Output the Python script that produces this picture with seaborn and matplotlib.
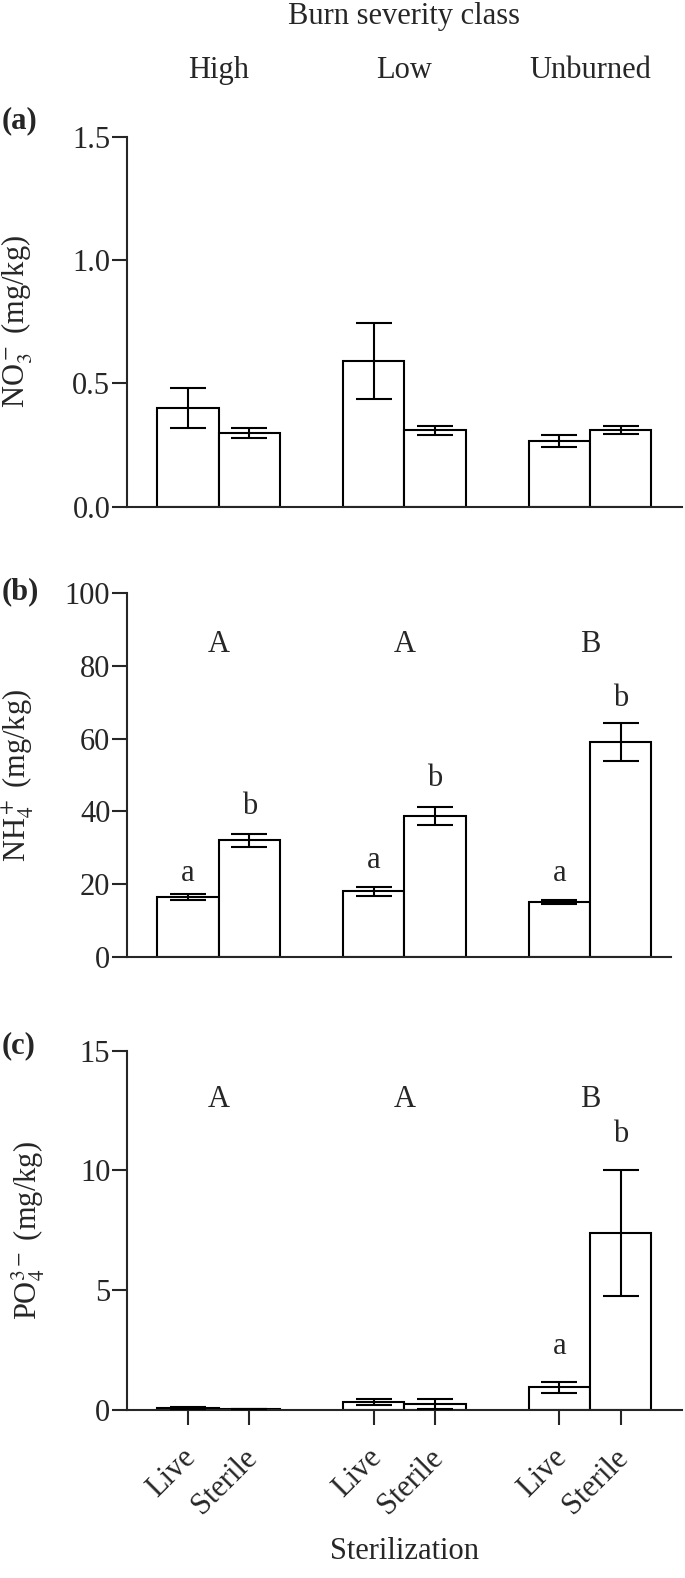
import matplotlib
matplotlib.use("Agg")
import matplotlib.pyplot as plt
import matplotlib.transforms as mtransforms
import seaborn as sns
import pandas as pd

# burn severity classes and sterilization treatments
groups = ["High", "Low", "Unburned"]
treatments = ["Live", "Sterile"]

# (a) nitrate, mg/kg  (means and SE per group, Live / Sterile)
no3_live = [0.40, 0.59, 0.267]
no3_sterile = [0.30, 0.31, 0.312]
no3_live_se = [0.082, 0.155, 0.023]
no3_sterile_se = [0.02, 0.018, 0.017]

# (b) ammonium, mg/kg
nh4_live = [16.5, 18.0, 15.2]
nh4_sterile = [32.0, 38.8, 59.1]
nh4_live_se = [0.8, 1.25, 0.55]
nh4_sterile_se = [1.8, 2.45, 5.25]

# (c) phosphate, mg/kg
po4_live = [0.08, 0.32, 0.94]
po4_sterile = [0.02, 0.26, 7.37]
po4_live_se = [0.06, 0.12, 0.22]
po4_sterile_se = [0.0, 0.21, 2.63]

# significance letters
nh4_upper = ["A", "A", "B"]
nh4_upper_y = 85.8
nh4_live_letters = ["a", "a", "a"]
nh4_live_letter_y = [22.8, 26.6, 22.8]
nh4_sterile_letters = ["b", "b", "b"]
nh4_sterile_letter_y = [41.3, 49.1, 71.1]

po4_upper = ["A", "A", "B"]
po4_upper_y = 12.97
po4_live_letters = ["", "", "a"]
po4_live_letter_y = [0, 0, 2.64]
po4_sterile_letters = ["", "", "b"]
po4_sterile_letter_y = [0, 0, 11.48]

sns.set_style("ticks")
plt.rcParams["font.family"] = ["Liberation Serif", "DejaVu Serif"]
plt.rcParams["mathtext.fontset"] = "stix"
FS = 22


def make_df(live, sterile):
    rows = []
    for g, v in zip(groups, live):
        rows.append({"burn": g, "treat": "Live", "value": v})
    for g, v in zip(groups, sterile):
        rows.append({"burn": g, "treat": "Sterile", "value": v})
    return pd.DataFrame(rows)


def draw_panel(ax, live, sterile, live_se, sterile_se, ylim, yticks, ylabel, xlim):
    df = make_df(live, sterile)
    sns.barplot(data=df, x="burn", y="value", hue="treat", order=groups,
                hue_order=treatments, palette=["white", "white"], edgecolor="black",
                linewidth=1.5, width=0.66, errorbar=None, legend=False, ax=ax)
    centers = []
    for cont, se in zip(ax.containers, [live_se, sterile_se]):
        xs = [b.get_x() + b.get_width() / 2 for b in cont]
        ys = [b.get_height() for b in cont]
        centers.append(xs)
        ax.errorbar(xs, ys, yerr=se, fmt="none", ecolor="black", elinewidth=1.5,
                    capsize=13, capthick=1.5, zorder=5)
    ax.set_xlim(*xlim)
    ax.set_ylim(*ylim)
    ax.set_yticks(yticks)
    sns.despine(ax=ax)
    for s in ["left", "bottom"]:
        ax.spines[s].set_linewidth(1.5)
    ax.tick_params(axis="y", length=11, width=1.5, pad=1, labelsize=FS)
    ax.set_ylabel(ylabel, fontsize=FS)
    ax.set_xlabel("")
    return centers


fig = plt.figure(figsize=(6.85, 15.78), dpi=100)
ax_a = fig.add_axes([0.1854, 0.6789, 0.8102, 0.2345])
ax_b = fig.add_axes([0.1854, 0.3937, 0.7942, 0.2303])
ax_c = fig.add_axes([0.1854, 0.1065, 0.8102, 0.2277])

# (a)
draw_panel(ax_a, no3_live, no3_sterile, no3_live_se, no3_sterile_se,
           (0, 1.5), [0, 0.5, 1.0, 1.5], "NO$_3^-$ (mg/kg)", (-0.494, 2.495))
ax_a.set_yticklabels(["0.0", "0.5", "1.0", "1.5"])
ax_a.xaxis.set_ticks_position("top")
ax_a.tick_params(axis="x", length=0, pad=37, labelsize=FS, labeltop=True, labelbottom=False)
ax_a.xaxis.set_label_position("top")
ax_a.set_xlabel("Burn severity class", fontsize=FS)
ax_a.xaxis.set_label_coords(0.5, 1.305)
ax_a.yaxis.set_label_coords(-0.165, 0.5)

# (b)
cb = draw_panel(ax_b, nh4_live, nh4_sterile, nh4_live_se, nh4_sterile_se,
                (0, 100), [0, 20, 40, 60, 80, 100], "NH$_4^+$ (mg/kg)", (-0.494, 2.436))
ax_b.tick_params(axis="x", length=0, labelbottom=False)
ax_b.yaxis.set_label_coords(-0.168, 0.5)
for i in range(3):
    ax_b.text(i, nh4_upper_y, nh4_upper[i], ha="center", va="center", fontsize=FS)
    ax_b.text(cb[0][i], nh4_live_letter_y[i], nh4_live_letters[i], ha="center", va="center", fontsize=FS)
    ax_b.text(cb[1][i], nh4_sterile_letter_y[i], nh4_sterile_letters[i], ha="center", va="center", fontsize=FS)

# (c)
cc = draw_panel(ax_c, po4_live, po4_sterile, po4_live_se, po4_sterile_se,
                (0, 15), [0, 5, 10, 15], "PO$_4^{3-}$ (mg/kg)", (-0.494, 2.495))
ax_c.yaxis.set_label_coords(-0.145, 0.5)
tick_pos = sorted(cc[0] + cc[1])
ax_c.set_xticks(tick_pos)
ax_c.set_xticklabels(["Live", "Sterile"] * 3, rotation=45, ha="right",
                     rotation_mode="anchor", fontsize=FS)
ax_c.tick_params(axis="x", length=11, width=1.5, pad=13)
shift = mtransforms.ScaledTranslation(-5 / 72, 0, fig.dpi_scale_trans)
for lab in ax_c.get_xticklabels():
    lab.set_transform(lab.get_transform() + shift)
ax_c.set_xlabel("Sterilization", fontsize=FS)
ax_c.xaxis.set_label_coords(0.5, -0.355)
for i in range(3):
    ax_c.text(i, po4_upper_y, po4_upper[i], ha="center", va="center", fontsize=FS)
    if po4_live_letters[i]:
        ax_c.text(cc[0][i], po4_live_letter_y[i], po4_live_letters[i], ha="center", va="center", fontsize=FS)
    if po4_sterile_letters[i]:
        ax_c.text(cc[1][i], po4_sterile_letter_y[i], po4_sterile_letters[i], ha="center", va="center", fontsize=FS)

# panel letters
fig.text(0.003, 1 - 121 / 1578, "(a)", fontsize=FS, fontweight="bold", va="center")
fig.text(0.003, 1 - 592 / 1578, "(b)", fontsize=FS, fontweight="bold", va="center")
fig.text(0.003, 1 - 1046 / 1578, "(c)", fontsize=FS, fontweight="bold", va="center")

fig.savefig("out.png", dpi=100)
